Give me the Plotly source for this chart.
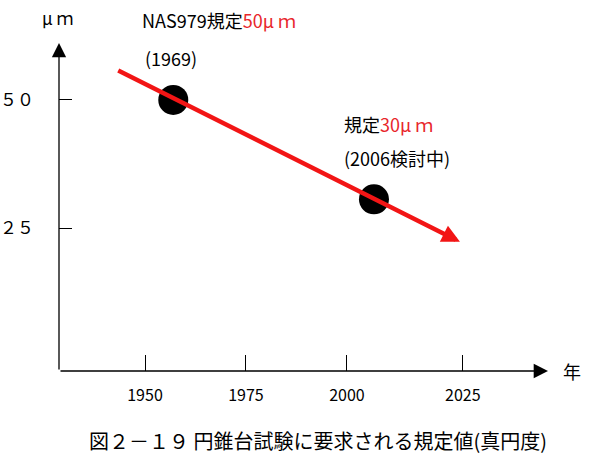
import plotly.graph_objects as go

# data
years = [1957, 2006.7]
values = [50, 30.6]
trend_years = [1943, 2028]
trend_vals = [55.9, 22.3]
x_tick_pos = [1950, 1975, 2000, 2028.7]
x_tick_text = ["1950", "1975", "2000", "2025"]
y_tick_pos = [25, 50]
y_tick_text = ["２５", "５０"]
x_range = [1928.7, 2049.8]
y_range = [-2.9, 61.1]

FONT = "Noto Sans CJK JP"
RED = "#F21515"
TXT_RED = "#E8262B"

fig = go.Figure()
fig.add_trace(go.Scatter(x=years, y=values, mode="markers",
                         marker=dict(size=30, color="black"),
                         showlegend=False, hoverinfo="skip", cliponaxis=False))

ann = []
# trend arrow
ann.append(dict(x=trend_years[1], y=trend_vals[1], ax=trend_years[0], ay=trend_vals[0],
                xref="x", yref="y", axref="x", ayref="y", showarrow=True,
                arrowhead=2, arrowsize=0.8, arrowwidth=4.5, arrowcolor=RED, text=""))
# axes arrows
ann.append(dict(x=x_range[1], y=y_range[0], ax=x_range[0], ay=y_range[0],
                xref="x", yref="y", axref="x", ayref="y", showarrow=True,
                arrowhead=2, arrowsize=2.2, arrowwidth=1.3, arrowcolor="black", text=""))
ann.append(dict(x=x_range[0], y=y_range[1], ax=x_range[0], ay=y_range[0],
                xref="x", yref="y", axref="x", ayref="y", showarrow=True,
                arrowhead=2, arrowsize=2.2, arrowwidth=1.3, arrowcolor="black", text=""))

def txt(x, y, s, size=15, xanchor="left", color="black"):
    ann.append(dict(x=x, y=y, xref="paper", yref="paper", text=s, showarrow=False,
                    xanchor=xanchor, yanchor="middle",
                    font=dict(family=FONT, size=size, color=color)))

txt(0.166, 1.070, f"NAS979規定<span style='color:{TXT_RED}'>50μ ｍ</span>", 18)
txt(0.172, 0.954, "(1969)", 18)
txt(0.579, 0.753, f"規定<span style='color:{TXT_RED}'>30μ ｍ</span>", 18)
txt(0.579, 0.649, "(2006検討中)", 18)
txt(-0.004, 1.079, "μ ｍ", 17, xanchor="center")
txt(1.049, 0.0, "年", 18, xanchor="center")
txt(0.530, -0.213, "図２－１９ 円錐台試験に要求される規定値(真円度)", 20, xanchor="center")

fig.update_layout(
    width=591, height=466,
    margin=dict(l=59, r=43, t=43, b=95),
    paper_bgcolor="white", plot_bgcolor="white",
    annotations=ann,
    xaxis=dict(range=x_range, showgrid=False, zeroline=False, showline=False,
               automargin=False,
               tickmode="array", tickvals=x_tick_pos, ticktext=x_tick_text,
               ticks="inside", ticklen=16, tickwidth=1.1, tickcolor="black",
               ticklabelstandoff=13,
               tickfont=dict(family=FONT, size=16, color="black")),
    yaxis=dict(range=y_range, showgrid=False, zeroline=False, showline=False,
               automargin=False,
               tickmode="array", tickvals=y_tick_pos, ticktext=y_tick_text,
               ticks="inside", ticklen=13, tickwidth=1.1, tickcolor="black",
               ticklabelstandoff=24,
               tickfont=dict(family=FONT, size=17, color="black")),
)

fig.write_html("out.html")
